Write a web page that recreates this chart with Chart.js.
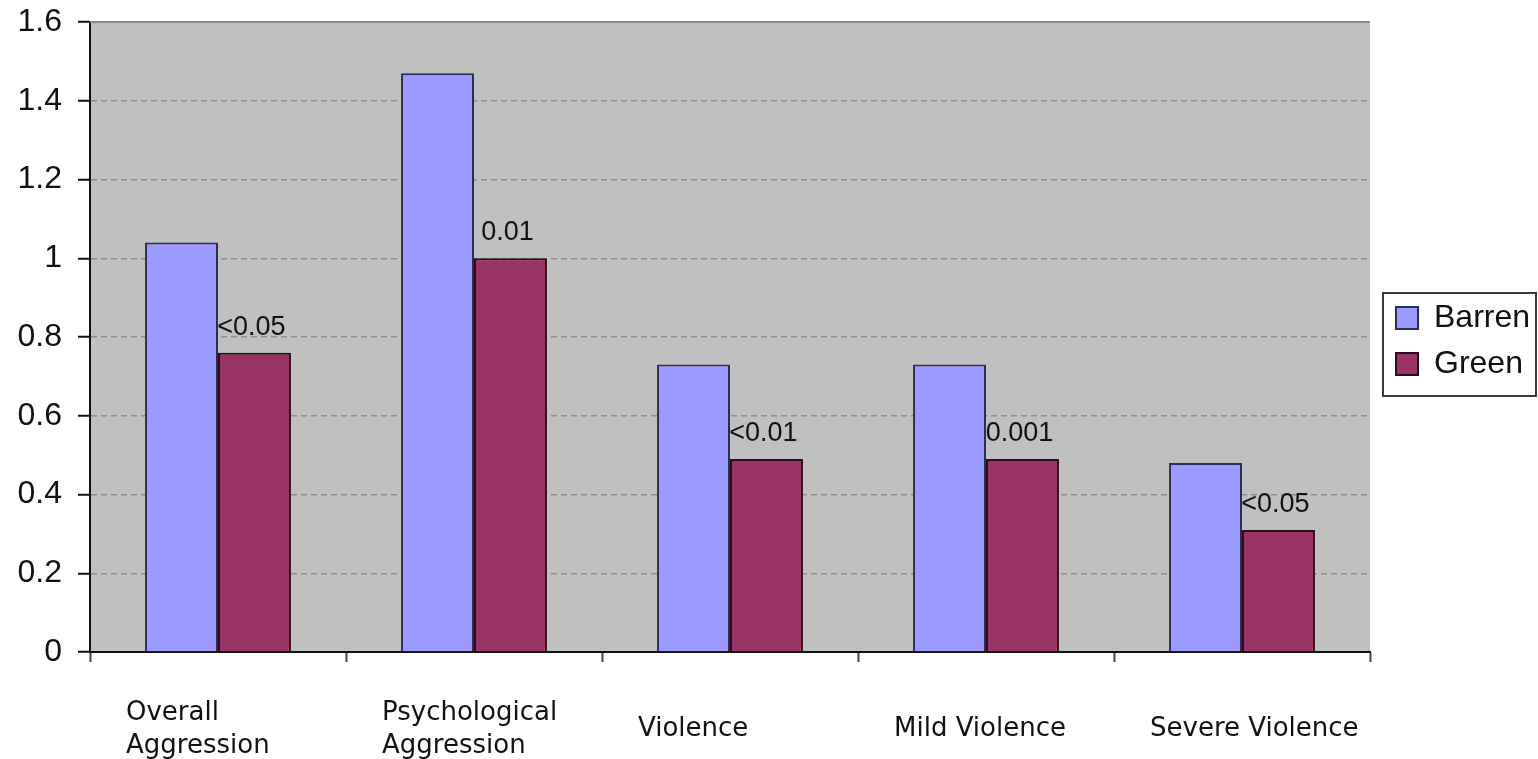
<!DOCTYPE html>
<html>
<head>
<meta charset="utf-8">
<script src="https://cdn.jsdelivr.net/npm/chart.js@4/dist/chart.umd.min.js"></script>
<style>
  html, body { margin: 0; padding: 0; background: #ffffff; }
  #wrap { width: 1538px; height: 759px; }
</style>
</head>
<body>
<div id="wrap"><canvas id="chart" width="1538" height="759"></canvas></div>
<script>
// Aggression scores by category, barren vs green surroundings
const categories = [
  ["Overall", "Aggression"],
  ["Psychological", "Aggression"],
  "Violence",
  "Mild Violence",
  "Severe Violence"
];
const barrenValues = [1.04, 1.47, 0.73, 0.73, 0.48];
const greenValues  = [0.76, 1.00, 0.49, 0.49, 0.31];
const pValueLabels = ["<0.05", "0.01", "<0.01", "0.001", "<0.05"];
const yTickMin = 0, yTickMax = 1.6, yTickStep = 0.2;

// grey plot background with a darker top edge
const plotFrame = {
  id: 'plotFrame',
  beforeDraw(chart) {
    const { ctx, chartArea: a } = chart;
    ctx.save();
    ctx.fillStyle = '#c0c0c0';
    ctx.fillRect(a.left, a.top, a.right - a.left, a.bottom - a.top);
    ctx.restore();
  },
  beforeDatasetsDraw(chart) {
    const { ctx, chartArea: a } = chart;
    ctx.save();
    ctx.strokeStyle = '#8a8a8a';
    ctx.lineWidth = 2;
    ctx.beginPath();
    ctx.moveTo(a.left, a.top);
    ctx.lineTo(a.right, a.top);
    ctx.stroke();
    ctx.restore();
  }
};

// fixed-width legend column on the right, framed by a box
const legendFrame = {
  id: 'legendFrame',
  beforeLayout(chart) {
    const lg = chart.legend;
    if (lg && !lg.__fixedWidth) {
      const fit = lg.fit;
      lg.fit = function () { fit.call(this); this.width = 168; };
      lg.__fixedWidth = true;
    }
  },
  afterLayout(chart) {
    const lg = chart.legend;
    if (lg) { lg.left += 12; lg.right += 12; lg.top += 4; lg.bottom += 4; }
  },
  afterDraw(chart) {
    const lg = chart.legend;
    if (!lg || !lg.legendHitBoxes || !lg.legendHitBoxes.length) return;
    const boxes = lg.legendHitBoxes;
    const first = boxes[0], last = boxes[boxes.length - 1];
    const { ctx } = chart;
    ctx.save();
    ctx.strokeStyle = '#3a3a3a';
    ctx.lineWidth = 2;
    const x0 = first.left - 13, y0 = first.top - 9;
    const x1 = chart.width - 2, y1 = last.top + last.height + 16;
    ctx.strokeRect(x0, y0, x1 - x0, y1 - y0);
    ctx.restore();
  }
};

// p-value annotations above the green bars
const pValueText = {
  id: 'pValueText',
  afterDatasetsDraw(chart) {
    const meta = chart.getDatasetMeta(1);
    const { ctx } = chart;
    ctx.save();
    ctx.font = '27px "Liberation Sans", Arial, sans-serif';
    ctx.fillStyle = '#111111';
    ctx.textAlign = 'center';
    ctx.textBaseline = 'alphabetic';
    meta.data.forEach((bar, i) => {
      ctx.fillText(pValueLabels[i], bar.x - 3, bar.y - 18);
    });
    ctx.restore();
  }
};

new Chart(document.getElementById('chart'), {
  type: 'bar',
  data: {
    labels: categories,
    datasets: [
      {
        label: 'Barren',
        data: barrenValues,
        backgroundColor: '#9b9bff',
        borderColor: '#2c2c58',
        borderWidth: 2,
        categoryPercentage: 0.57,
        barPercentage: 1.0
      },
      {
        label: 'Green',
        data: greenValues,
        backgroundColor: '#993366',
        borderColor: '#2a0d1c',
        borderWidth: 2,
        categoryPercentage: 0.57,
        barPercentage: 1.0
      }
    ]
  },
  options: {
    responsive: false,
    devicePixelRatio: 1,
    animation: false,
    layout: { padding: { top: 22, left: 0, right: 0, bottom: 0 } },
    plugins: {
      legend: {
        display: true,
        position: 'right',
        fullSize: false,
        align: 'center',
        labels: {
          boxWidth: 22,
          boxHeight: 22,
          padding: 14,
          color: '#111111',
          font: { family: '"Liberation Sans", Arial, sans-serif', size: 32 }
        }
      },
      tooltip: { enabled: false },
      title: { display: false }
    },
    scales: {
      x: {
        offset: true,
        afterFit(scale) { scale.height = 107; },
        grid: {
          offset: true,
          drawOnChartArea: false,
          drawTicks: true,
          tickLength: 10,
          tickColor: '#444444',
          tickWidth: 2
        },
        border: { display: true, color: '#111111', width: 2 },
        ticks: {
          autoSkip: false,
          maxRotation: 0,
          minRotation: 0,
          align: 'start',
          crossAlign: 'center',
          labelOffset: -92,
          padding: 51,
          color: '#111111',
          font: { family: '"DejaVu Sans", Verdana, sans-serif', size: 26, lineHeight: 1.27 }
        }
      },
      y: {
        min: yTickMin,
        max: yTickMax,
        afterFit(scale) {
          scale.width = 90;
          scale.paddingTop = 0;
          scale.paddingBottom = 0;
        },
        grid: {
          color: '#8e8e8e',
          lineWidth: 1.5,
          drawTicks: true,
          tickLength: 12,
          tickColor: '#111111',
          tickWidth: 2,
          tickBorderDash: []
        },
        border: { display: true, color: '#111111', width: 2, dash: [6, 4] },
        ticks: {
          stepSize: yTickStep,
          padding: 16,
          color: '#111111',
          font: { family: '"Liberation Sans", Arial, sans-serif', size: 32 },
          callback: (value) => String(Math.round(value * 10) / 10)
        }
      }
    }
  },
  plugins: [plotFrame, legendFrame, pValueText]
});
</script>
</body>
</html>
